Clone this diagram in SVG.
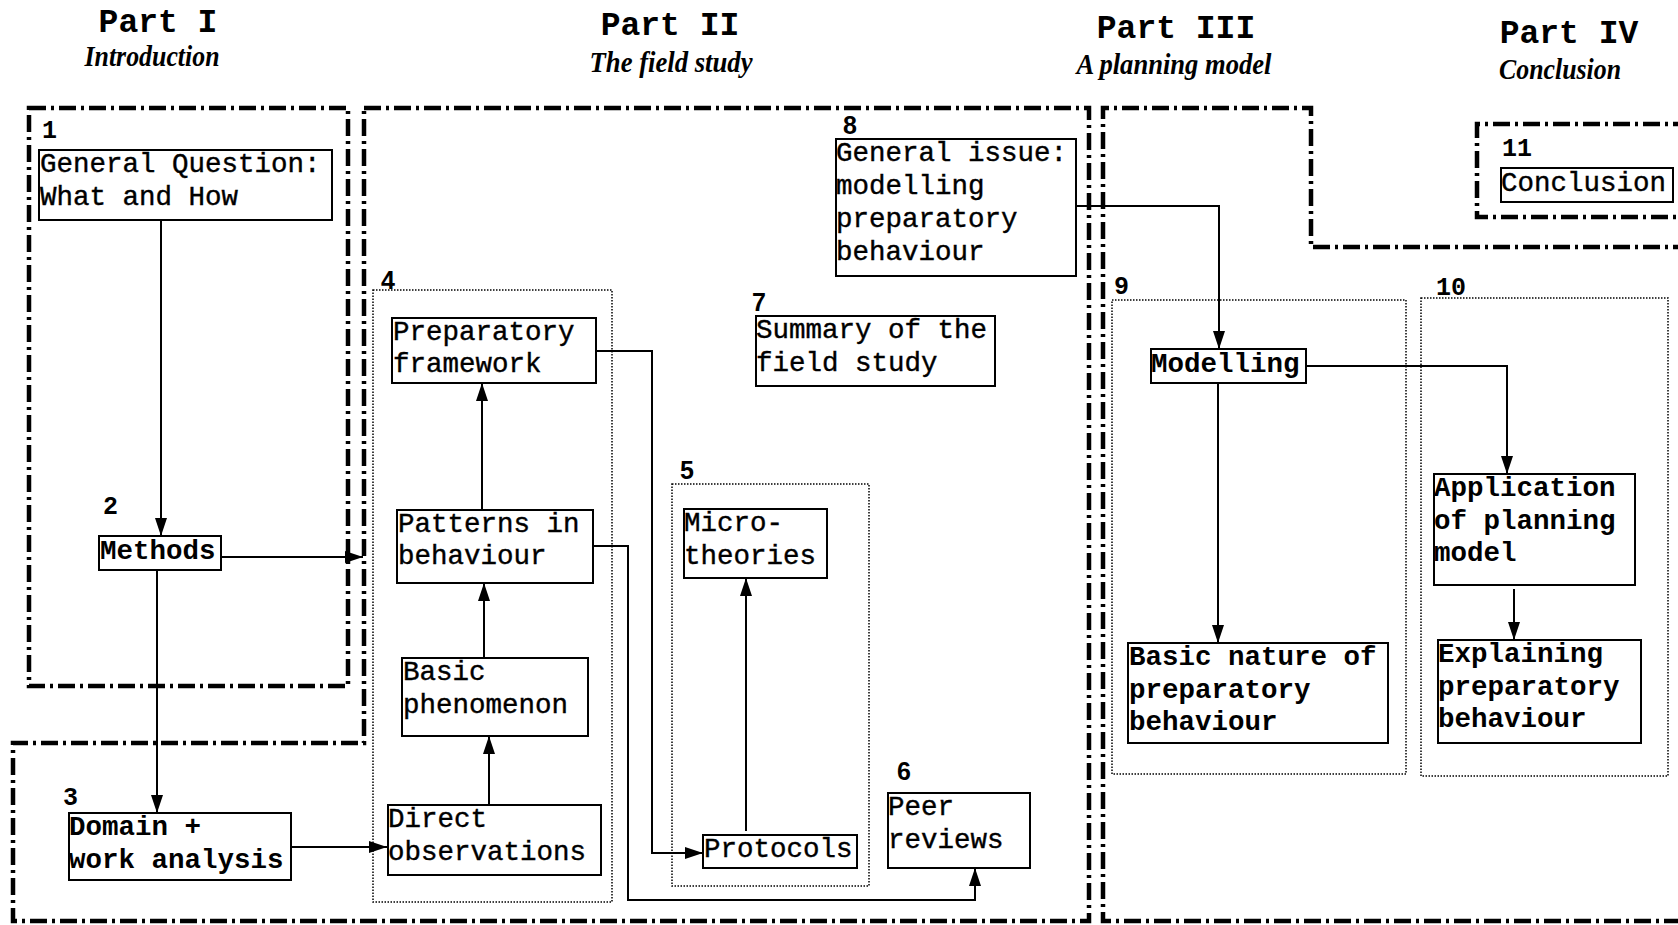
<svg xmlns="http://www.w3.org/2000/svg" width="1678" height="925" viewBox="0 0 1678 925">
<style>
.bg{fill:#fff}
.frame{fill:none;stroke:#000;stroke-width:4.5;stroke-dasharray:17 5 3 5}
.dot{fill:none;stroke:#000;stroke-width:1.5;stroke-dasharray:1.5 1.5}
.box{fill:#fff;stroke:#000;stroke-width:2}
.t{font-family:"Liberation Mono","Courier New",monospace;font-size:27.5px;fill:#000;stroke:#000;stroke-width:0.4}
.tb{font-family:"Liberation Mono","Courier New",monospace;font-size:27.5px;font-weight:bold;fill:#000}
.title{font-family:"Liberation Mono","Courier New",monospace;font-size:33px;font-weight:bold;fill:#000;text-anchor:middle}
.sub{font-family:"Liberation Serif","Times New Roman",serif;font-size:29px;font-weight:bold;font-style:italic;fill:#000;text-anchor:middle}
.num{font-family:"Liberation Mono","Courier New",monospace;font-size:25px;font-weight:bold;fill:#000}
.nums{font-family:"Liberation Sans",Arial,sans-serif;font-size:25px;font-weight:bold;fill:#000}
.c{fill:none;stroke:#000;stroke-width:2}
</style>
<defs>
<marker id="arr" markerUnits="userSpaceOnUse" markerWidth="18" markerHeight="12" refX="18" refY="6" orient="auto">
<path d="M0,0 L18,6 L0,12 Z" fill="#000"/>
</marker>
</defs>
<rect class="bg" x="0" y="0" width="1678" height="925"/>

<g id="titles">
<text class="title" x="158" y="32">Part I</text>
<text class="sub" x="152" y="66" textLength="135" lengthAdjust="spacingAndGlyphs">Introduction</text>
<text class="title" x="670" y="35">Part II</text>
<text class="sub" x="671" y="72" textLength="163" lengthAdjust="spacingAndGlyphs">The field study</text>
<text class="title" x="1176" y="38">Part III</text>
<text class="sub" x="1174" y="74" textLength="195" lengthAdjust="spacingAndGlyphs">A planning model</text>
<text class="title" x="1569" y="43">Part IV</text>
<text class="sub" x="1560" y="79" textLength="122" lengthAdjust="spacingAndGlyphs">Conclusion</text>
</g>

<g id="frames">
<rect class="frame" x="29" y="108" width="319" height="578"/>
<path class="frame" d="M364,108 H1089 V921 H13 V743 H364 Z"/>
<path class="frame" d="M1690,247 H1311 V108 H1103 V921 H1690"/>
<path class="frame" d="M1690,124 H1477 V217 H1690"/>
</g>

<g id="groups">
<rect class="dot" x="373" y="290" width="239" height="612"/>
<rect class="dot" x="672" y="484" width="197" height="402"/>
<rect class="dot" x="1112" y="300" width="294" height="474"/>
<rect class="dot" x="1421" y="298" width="247" height="478"/>
</g>

<g id="labels">
<text class="num" x="42" y="138">1</text>
<text class="num" x="103" y="514">2</text>
<text class="num" x="63" y="805">3</text>
<text class="nums" x="381" y="289">4</text>
<text class="nums" x="680" y="479">5</text>
<text class="nums" x="897" y="780">6</text>
<text class="nums" x="752" y="311">7</text>
<text class="nums" x="843" y="134">8</text>
<text class="num" x="1114" y="294">9</text>
<text class="num" x="1436" y="295">10</text>
<text class="num" x="1502" y="156">11</text>
</g>

<g id="connectors">
<path class="c" d="M161,220 V536" marker-end="url(#arr)"/>
<path class="c" d="M221,557 H363" marker-end="url(#arr)"/>
<path class="c" d="M157,570 V813" marker-end="url(#arr)"/>
<path class="c" d="M291,847 H387" marker-end="url(#arr)"/>
<path class="c" d="M489,805 V736" marker-end="url(#arr)"/>
<path class="c" d="M484,658 V583" marker-end="url(#arr)"/>
<path class="c" d="M482,510 V383" marker-end="url(#arr)"/>
<path class="c" d="M596,351 H652 V853 H703" marker-end="url(#arr)"/>
<path class="c" d="M593,546 H628 V900 H975 V868" marker-end="url(#arr)"/>
<path class="c" d="M746,831 V578" marker-end="url(#arr)"/>
<path class="c" d="M1076,206 H1219 V349" marker-end="url(#arr)"/>
<path class="c" d="M1218,383 V643" marker-end="url(#arr)"/>
<path class="c" d="M1306,366 H1507 V474" marker-end="url(#arr)"/>
<path class="c" d="M1514,589 V640" marker-end="url(#arr)"/>
</g>

<g id="n1">
<rect class="box" x="39" y="150" width="293" height="70"/>
<text class="t" x="40" y="172">General Question:</text>
<text class="t" x="40" y="205">What and How</text>
</g>
<g id="n2">
<rect class="box" x="99" y="536" width="122" height="34"/>
<text class="tb" x="100" y="559">Methods</text>
</g>
<g id="n3">
<rect class="box" x="69" y="813" width="222" height="67"/>
<text class="tb" x="69" y="835">Domain +</text>
<text class="tb" x="69" y="868">work analysis</text>
</g>
<g id="n4a">
<rect class="box" x="392" y="318" width="204" height="65"/>
<text class="t" x="393" y="340">Preparatory</text>
<text class="t" x="393" y="372">framework</text>
</g>
<g id="n4b">
<rect class="box" x="397" y="510" width="196" height="73"/>
<text class="t" x="398" y="532">Patterns in</text>
<text class="t" x="398" y="564">behaviour</text>
</g>
<g id="n4c">
<rect class="box" x="402" y="658" width="186" height="78"/>
<text class="t" x="403" y="680">Basic</text>
<text class="t" x="403" y="713">phenomenon</text>
</g>
<g id="n4d">
<rect class="box" x="388" y="805" width="213" height="70"/>
<text class="t" x="388" y="827">Direct</text>
<text class="t" x="388" y="860">observations</text>
</g>
<g id="n5a">
<rect class="box" x="684" y="509" width="143" height="69"/>
<text class="t" x="684" y="531">Micro-</text>
<text class="t" x="684" y="564">theories</text>
</g>
<g id="n5b">
<rect class="box" x="703" y="835" width="154" height="33"/>
<text class="t" x="704" y="857">Protocols</text>
</g>
<g id="n6">
<rect class="box" x="888" y="793" width="142" height="75"/>
<text class="t" x="888" y="815">Peer</text>
<text class="t" x="888" y="848">reviews</text>
</g>
<g id="n7">
<rect class="box" x="756" y="316" width="239" height="70"/>
<text class="t" x="756" y="338">Summary of the</text>
<text class="t" x="756" y="371">field study</text>
</g>
<g id="n8">
<rect class="box" x="836" y="139" width="240" height="137"/>
<text class="t" x="836" y="161">General issue:</text>
<text class="t" x="836" y="194">modelling</text>
<text class="t" x="836" y="227">preparatory</text>
<text class="t" x="836" y="260">behaviour</text>
</g>
<g id="n9a">
<rect class="box" x="1151" y="349" width="155" height="34"/>
<text class="tb" x="1151" y="372">Modelling</text>
</g>
<g id="n9b">
<rect class="box" x="1128" y="643" width="260" height="100"/>
<text class="tb" x="1129" y="665">Basic nature of</text>
<text class="tb" x="1129" y="698">preparatory</text>
<text class="tb" x="1129" y="730">behaviour</text>
</g>
<g id="n10a">
<rect class="box" x="1434" y="474" width="201" height="111"/>
<text class="tb" x="1434" y="496">Application</text>
<text class="tb" x="1434" y="529">of planning</text>
<text class="tb" x="1434" y="561">model</text>
</g>
<g id="n10b">
<rect class="box" x="1438" y="640" width="203" height="103"/>
<text class="tb" x="1438" y="662">Explaining</text>
<text class="tb" x="1438" y="695">preparatory</text>
<text class="tb" x="1438" y="727">behaviour</text>
</g>
<g id="n11">
<rect class="box" x="1501" y="168" width="172" height="34"/>
<text class="t" x="1501" y="191">Conclusion</text>
</g>
</svg>
